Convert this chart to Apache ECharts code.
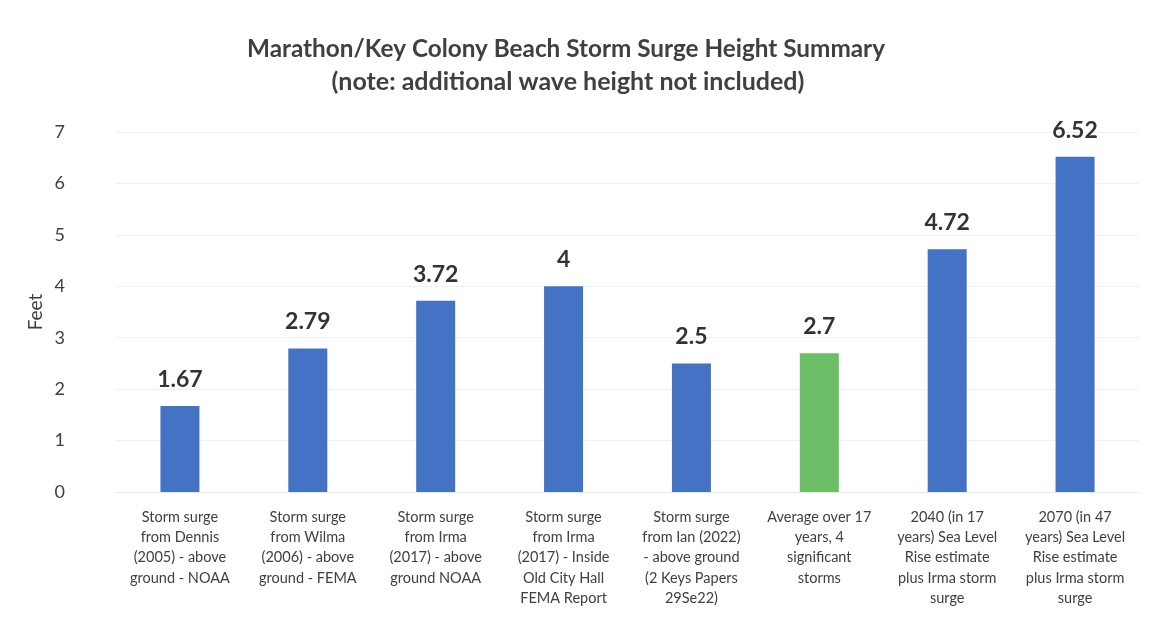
<!DOCTYPE html>
<html>
<head>
<meta charset="utf-8">
<script src="https://cdn.jsdelivr.net/npm/echarts@6/dist/echarts.min.js"></script>
<style>
html,body{margin:0;padding:0;background:#fff;}
#chart{width:1157px;height:628px;}
</style>
</head>
<body>
<div id="chart"></div>
<script>
const titleLine1 = "Marathon/Key Colony Beach Storm Surge Height Summary";
const titleLine2 = "(note: additional wave height not included)";
const yAxisName = "Feet";
const categories = [
  "Storm surge\nfrom Dennis\n(2005) - above\nground - NOAA",
  "Storm surge\nfrom Wilma\n(2006) - above\nground - FEMA",
  "Storm surge\nfrom Irma\n(2017) - above\nground NOAA",
  "Storm surge\nfrom Irma\n(2017) - Inside\nOld City Hall\nFEMA Report",
  "Storm surge\nfrom Ian (2022)\n- above ground\n(2 Keys Papers\n29Se22)",
  "Average over 17\nyears, 4\nsignificant\nstorms",
  "2040 (in 17\nyears) Sea Level\nRise estimate\nplus Irma storm\nsurge",
  "2070 (in 47\nyears) Sea Level\nRise estimate\nplus Irma storm\nsurge"
];
const values = [1.67, 2.79, 3.72, 4, 2.5, 2.7, 4.72, 6.52];
const barColors = ["#4472c4","#4472c4","#4472c4","#4472c4","#4472c4","#6cbf66","#4472c4","#4472c4"];
const yTicks = [0, 7, 1]; // min, max, interval

const font = "Lato, 'Open Sans', sans-serif";
const chart = echarts.init(document.getElementById('chart'));
chart.setOption({
  backgroundColor: '#ffffff',
  animation: false,
  title: [
    { text: titleLine1, left: 561, top: 32, textAlign: 'center',
      textStyle: { fontFamily: font, fontSize: 24.3, fontWeight: 'bold', color: '#404040' } },
    { text: titleLine2, left: 563, top: 64, textAlign: 'center',
      textStyle: { fontFamily: font, fontSize: 25, fontWeight: 'bold', color: '#404040' } }
  ],
  grid: { left: 116, right: 18, top: 132, bottom: 136 },
  xAxis: {
    type: 'category',
    data: categories,
    axisLine: { show: true, lineStyle: { color: '#e8e8e8' } },
    axisTick: { show: false },
    axisLabel: { interval: 0, fontFamily: font, fontSize: 14.5, color: '#404040', lineHeight: 20.3, margin: 15 }
  },
  yAxis: {
    type: 'value',
    min: yTicks[0], max: yTicks[1], interval: yTicks[2],
    name: yAxisName, nameLocation: 'middle', nameGap: 71, nameRotate: 90,
    nameMoveOverlap: false,
    nameTextStyle: { fontFamily: font, fontSize: 19, color: '#404040' },
    axisLine: { show: false }, axisTick: { show: false },
    axisLabel: { fontFamily: font, fontSize: 18, color: '#404040', margin: 51 },
    splitLine: { lineStyle: { color: '#f0f0f0', width: 1 } }
  },
  series: [{
    type: 'bar',
    data: values.map((v, i) => ({ value: v, itemStyle: { color: barColors[i] } })),
    barWidth: 39,
    label: { show: true, position: 'top', distance: 15, fontFamily: font, fontSize: 23, fontWeight: 'bold', color: '#333333' }
  }]
});
</script>
</body>
</html>
